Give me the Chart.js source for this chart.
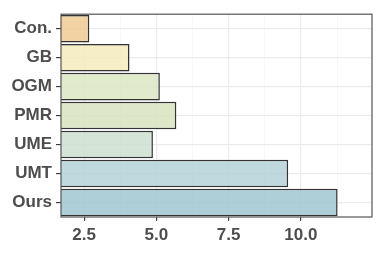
<!DOCTYPE html>
<html>
<head>
<meta charset="utf-8">
<script src="https://cdn.jsdelivr.net/npm/chart.js@4/dist/chart.umd.min.js"></script>
<style>
html,body{margin:0;padding:0;background:#fff;}
#wrap{width:382px;height:255px;position:relative;}
</style>
</head>
<body>
<div id="wrap"><canvas id="c" width="382" height="255"></canvas></div>
<script>
const categories = ["Con.", "GB", "OGM", "PMR", "UME", "UMT", "Ours"];
const values = [2.68, 4.07, 5.12, 5.69, 4.88, 9.56, 11.27];
const barColors = [
  "rgba(240,201,146,0.85)",
  "rgba(243,235,188,0.85)",
  "rgba(221,230,198,0.85)",
  "rgba(217,227,191,0.85)",
  "rgba(204,224,208,0.85)",
  "rgba(180,210,217,0.85)",
  "rgba(160,198,209,0.85)"
];
const majorTicks = [2.5, 5.0, 7.5, 10.0];
const minorTicks = [3.75, 6.25, 8.75, 11.25];
const xMin = 1.7, xMax = 12.46;

const allTicks = majorTicks.concat(minorTicks).sort((a,b)=>a-b);
const isMajor = v => majorTicks.some(m => Math.abs(m - v) < 1e-6);

const borderPlugin = {
  id: 'panelBorder',
  afterDraw(chart) {
    const a = chart.chartArea, ctx = chart.ctx;
    ctx.save();
    ctx.strokeStyle = '#555555';
    ctx.lineWidth = 1.2;
    ctx.strokeRect(a.left, a.top, a.right - a.left, a.bottom - a.top);
    ctx.restore();
  }
};

new Chart(document.getElementById('c'), {
  type: 'bar',
  data: {
    labels: categories,
    datasets: [{
      data: values,
      backgroundColor: barColors,
      borderColor: '#333333',
      borderWidth: 1.5,
      categoryPercentage: 1.0,
      barPercentage: 0.95,
      base: xMin
    }]
  },
  options: {
    indexAxis: 'y',
    responsive: false,
    animation: false,
    layout: { padding: { top: 10, right: 10, left: 0, bottom: 0 } },
    plugins: { legend: { display: false }, tooltip: { enabled: false } },
    scales: {
      x: {
        type: 'linear',
        min: xMin,
        max: xMax,
        afterBuildTicks: axis => { axis.ticks = allTicks.map(v => ({ value: v })); },
        afterFit: axis => { axis.height = 38; },
        border: { display: false },
        grid: {
          color: ctx => (ctx.tick && isMajor(ctx.tick.value)) ? '#EBEBEB' : '#F3F3F3',
          lineWidth: ctx => (ctx.tick && isMajor(ctx.tick.value)) ? 1.2 : 0.7,
          tickColor: ctx => (ctx.tick && isMajor(ctx.tick.value)) ? '#333333' : 'rgba(0,0,0,0)',
          tickLength: 4,
          tickWidth: 1.1
        },
        ticks: {
          autoSkip: false,
          maxRotation: 0,
          padding: 4,
          color: '#4D4D4D',
          font: { family: 'Liberation Sans, Arial, sans-serif', size: 17, weight: 'bold' },
          callback: v => isMajor(v) ? Number(v).toFixed(1) : ''
        }
      },
      y: {
        type: 'category',
        offset: true,
        afterFit: axis => { axis.width = 61; },
        border: { display: false },
        grid: {
          offset: false,
          color: '#EBEBEB',
          lineWidth: 1.2,
          tickColor: '#333333',
          tickLength: 5,
          tickWidth: 1.1
        },
        ticks: {
          padding: 4,
          color: '#4D4D4D',
          font: { family: 'Liberation Sans, Arial, sans-serif', size: 17, weight: 'bold' }
        }
      }
    }
  },
  plugins: [borderPlugin]
});
</script>
</body>
</html>
